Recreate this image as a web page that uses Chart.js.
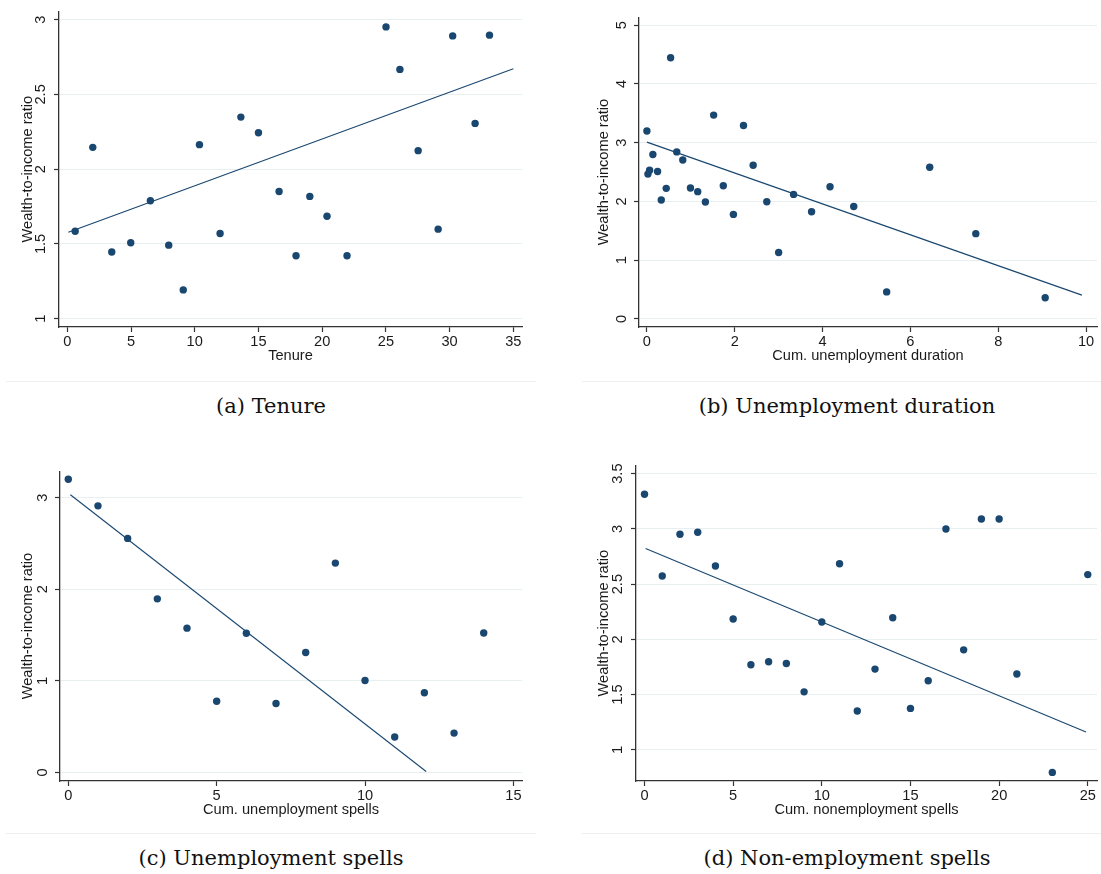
<!DOCTYPE html>
<html lang="en">
<head>
<meta charset="UTF-8">
<title>Wealth-to-income ratio</title>
<script src="https://cdn.jsdelivr.net/npm/chart.js"></script>
<style>
    body {
        margin: 0;
        background: #fff;
        width: 1101px;
        height: 874px;
        position: relative;
        overflow: hidden;
    }
    canvas {
        position: absolute;
    }
    .caption {
        position: absolute;
        width: 530px;
        text-align: center;
        font-family: "DejaVu Serif", serif;
        font-size: 21px;
        line-height: 21px;
        color: #111;
    }
    .rule {
        position: absolute;
        height: 0;
        border-top: 1px solid #efefef;
    }
</style>
</head>
<body>
<canvas id="chartA" width="540" height="370" style="left:0;top:0"></canvas>
<canvas id="chartB" width="541" height="370" style="left:560px;top:0"></canvas>
<canvas id="chartC" width="540" height="370" style="left:0;top:454px"></canvas>
<canvas id="chartD" width="541" height="370" style="left:560px;top:454px"></canvas>

<div class="rule" style="left:6px;top:381px;width:530px"></div>
<div class="rule" style="left:582px;top:381px;width:519px"></div>
<div class="rule" style="left:6px;top:833px;width:530px"></div>
<div class="rule" style="left:582px;top:833px;width:519px"></div>

<div class="caption" style="left:6px;top:396px">(a) Tenure</div>
<div class="caption" style="left:582px;top:396px">(b) Unemployment duration</div>
<div class="caption" style="left:6px;top:848px">(c) Unemployment spells</div>
<div class="caption" style="left:582px;top:848px">(d) Non-employment spells</div>

<script>
// (a) tenure
const tenureX = [0.62, 2.0, 3.49, 4.98, 6.52, 7.96, 9.10, 10.37, 11.99, 13.62, 15.0, 16.62,
    17.95, 19.03, 20.38, 21.95, 25.01, 26.10, 27.53, 29.10, 30.24, 32.0, 33.13];
const tenureY = [1.585, 2.146, 1.446, 1.508, 1.789, 1.492, 1.193, 2.164, 1.570, 2.348, 2.244, 1.851,
    1.421, 1.818, 1.685, 1.421, 2.951, 2.667, 2.124, 1.599, 2.891, 2.306, 2.896];
const tenureFitX = [0.08, 35];
const tenureFitY = [1.579, 2.672];
const tenureXTicks = [0, 5, 10, 15, 20, 25, 30, 35];
const tenureYTicks = [1, 1.5, 2, 2.5, 3];

// (b) cumulative unemployment duration
const durationX = [0, 0.023, 0.061, 0.136, 0.243, 0.327, 0.44, 0.54, 0.68, 0.817, 0.992, 1.157, 1.332,
    1.52, 1.74, 1.97, 2.20, 2.42, 2.73, 3.0, 3.34, 3.75, 4.17, 4.71, 5.46, 6.44, 7.49, 9.07];
const durationY = [3.2, 2.466, 2.533, 2.799, 2.511, 2.024, 2.223, 4.446, 2.844, 2.706, 2.228, 2.167, 1.99,
    3.47, 2.267, 1.779, 3.293, 2.616, 1.996, 1.131, 2.12, 1.824, 2.251, 1.913, 0.46, 2.583, 1.452, 0.36];
const durationFitX = [0, 9.906];
const durationFitY = [3.010, 0.405];
const durationXTicks = [0, 2, 4, 6, 8, 10];
const durationYTicks = [0, 1, 2, 3, 4, 5];

// (c) cumulative unemployment spells
const spellsX = [0, 1, 2, 3, 4, 5, 6, 7, 8, 9, 10, 11, 12, 13, 14];
const spellsY = [3.202, 2.911, 2.556, 1.896, 1.576, 0.778, 1.52, 0.753, 1.31, 2.286, 1.005, 0.387, 0.87, 0.43, 1.523];
const spellsFitX = [0.07, 12.06];
const spellsFitY = [3.032, 0.011];
const spellsXTicks = [0, 5, 10, 15];
const spellsYTicks = [0, 1, 2, 3];

// (d) cumulative nonemployment spells
const nonempX = [0, 1, 2, 3, 4, 5, 6, 7, 8, 9, 10, 11, 12, 13, 14, 15, 16, 17, 18, 19, 20, 21, 23, 25];
const nonempY = [3.314, 2.574, 2.951, 2.969, 2.664, 2.184, 1.770, 1.797, 1.782, 1.525, 2.157, 2.685,
    1.351, 1.731, 2.196, 1.375, 1.626, 2.999, 1.905, 3.089, 3.089, 1.686, 0.796, 2.586];
const nonempFitX = [0.06, 24.9];
const nonempFitY = [2.823, 1.162];
const nonempXTicks = [0, 5, 10, 15, 20, 25];
const nonempYTicks = [1, 1.5, 2, 2.5, 3, 3.5];

const yTitle = 'Wealth-to-income ratio';

const navy = '#1a476f';
const axisColor = '#333333';
const gridColor = '#e8eff1';
const textColor = '#1a1a1a';
const fontFamily = '"Liberation Sans", Arial, sans-serif';
const fontSize = 14.6;

function toPoints(xs, ys) {
    return xs.map((x, i) => ({ x: x, y: ys[i] }));
}

function makeChart(id, p) {
    new Chart(document.getElementById(id), {
        type: 'scatter',
        data: {
            datasets: [
                {
                    data: toPoints(p.x, p.y),
                    backgroundColor: navy,
                    borderColor: navy,
                    pointRadius: 3.7,
                    pointBorderWidth: 0
                },
                {
                    type: 'line',
                    data: toPoints(p.fitX, p.fitY),
                    borderColor: navy,
                    borderWidth: 1.1,
                    pointRadius: 0,
                    fill: false,
                    tension: 0
                }
            ]
        },
        options: {
            responsive: false,
            animation: false,
            events: [],
            layout: { padding: { top: 10, right: p.padRight, left: 0, bottom: 0 } },
            plugins: { legend: { display: false }, tooltip: { enabled: false } },
            scales: {
                x: {
                    type: 'linear',
                    min: p.xMin,
                    max: p.xMax,
                    afterBuildTicks: s => { s.ticks = p.xTicks.map(v => ({ value: v })); },
                    afterFit: s => { s.height = 43; },
                    grid: { drawOnChartArea: false, tickLength: 5, tickColor: axisColor, tickWidth: 1.2 },
                    border: { color: axisColor, width: 1.3 },
                    ticks: {
                        padding: 1,
                        color: textColor,
                        font: { family: fontFamily, size: fontSize },
                        maxRotation: 0,
                        autoSkip: false,
                        callback: v => String(v)
                    },
                    title: {
                        display: true,
                        text: p.xTitle,
                        color: textColor,
                        font: { family: fontFamily, size: fontSize },
                        padding: { top: 0, bottom: 5.4 }
                    }
                },
                y: {
                    type: 'linear',
                    min: p.yMin,
                    max: p.yMax,
                    afterBuildTicks: s => { s.ticks = p.yTicks.map(v => ({ value: v })); },
                    afterFit: s => { s.width = p.axisLeft; },
                    grid: { color: gridColor, lineWidth: 1, tickLength: 5, tickColor: axisColor, tickWidth: 1.2 },
                    border: { color: axisColor, width: 1.3 },
                    ticks: {
                        minRotation: 90,
                        maxRotation: 90,
                        crossAlign: 'center',
                        padding: p.yPad,
                        color: textColor,
                        font: { family: fontFamily, size: fontSize },
                        autoSkip: false,
                        callback: v => String(v)
                    },
                    title: {
                        display: true,
                        text: yTitle,
                        color: textColor,
                        font: { family: fontFamily, size: fontSize },
                        padding: { top: p.yTitlePad, bottom: 0 }
                    }
                }
            }
        }
    });
}

makeChart('chartA', {
    x: tenureX, y: tenureY, fitX: tenureFitX, fitY: tenureFitY,
    xTicks: tenureXTicks, yTicks: tenureYTicks, xTitle: 'Tenure',
    xMin: -0.65, xMax: 35.68, yMin: 0.945, yMax: 3.055,
    axisLeft: 59, padRight: 18, yPad: 2.6, yTitlePad: 18.8
});

makeChart('chartB', {
    x: durationX, y: durationY, fitX: durationFitX, fitY: durationFitY,
    xTicks: durationXTicks, yTicks: durationYTicks, xTitle: 'Cum. unemployment duration',
    xMin: -0.18, xMax: 10.25, yMin: -0.138, yMax: 5.138,
    axisLeft: 79, padRight: 2, yPad: 8.4, yTitlePad: 35.6
});

makeChart('chartC', {
    x: spellsX, y: spellsY, fitX: spellsFitX, fitY: spellsFitY,
    xTicks: spellsXTicks, yTicks: spellsYTicks, xTitle: 'Cum. unemployment spells',
    xMin: -0.28, xMax: 15.29, yMin: -0.093, yMax: 3.29,
    axisLeft: 60, padRight: 18, yPad: 8.4, yTitlePad: 19.2
});

makeChart('chartD', {
    x: nonempX, y: nonempY, fitX: nonempFitX, fitY: nonempFitY,
    xTicks: nonempXTicks, yTicks: nonempYTicks, xTitle: 'Cum. nonemployment spells',
    xMin: -0.48, xMax: 25.52, yMin: 0.718, yMax: 3.575,
    axisLeft: 76, padRight: 2, yPad: 2.6, yTitlePad: 35.6
});
</script>
</body>
</html>
